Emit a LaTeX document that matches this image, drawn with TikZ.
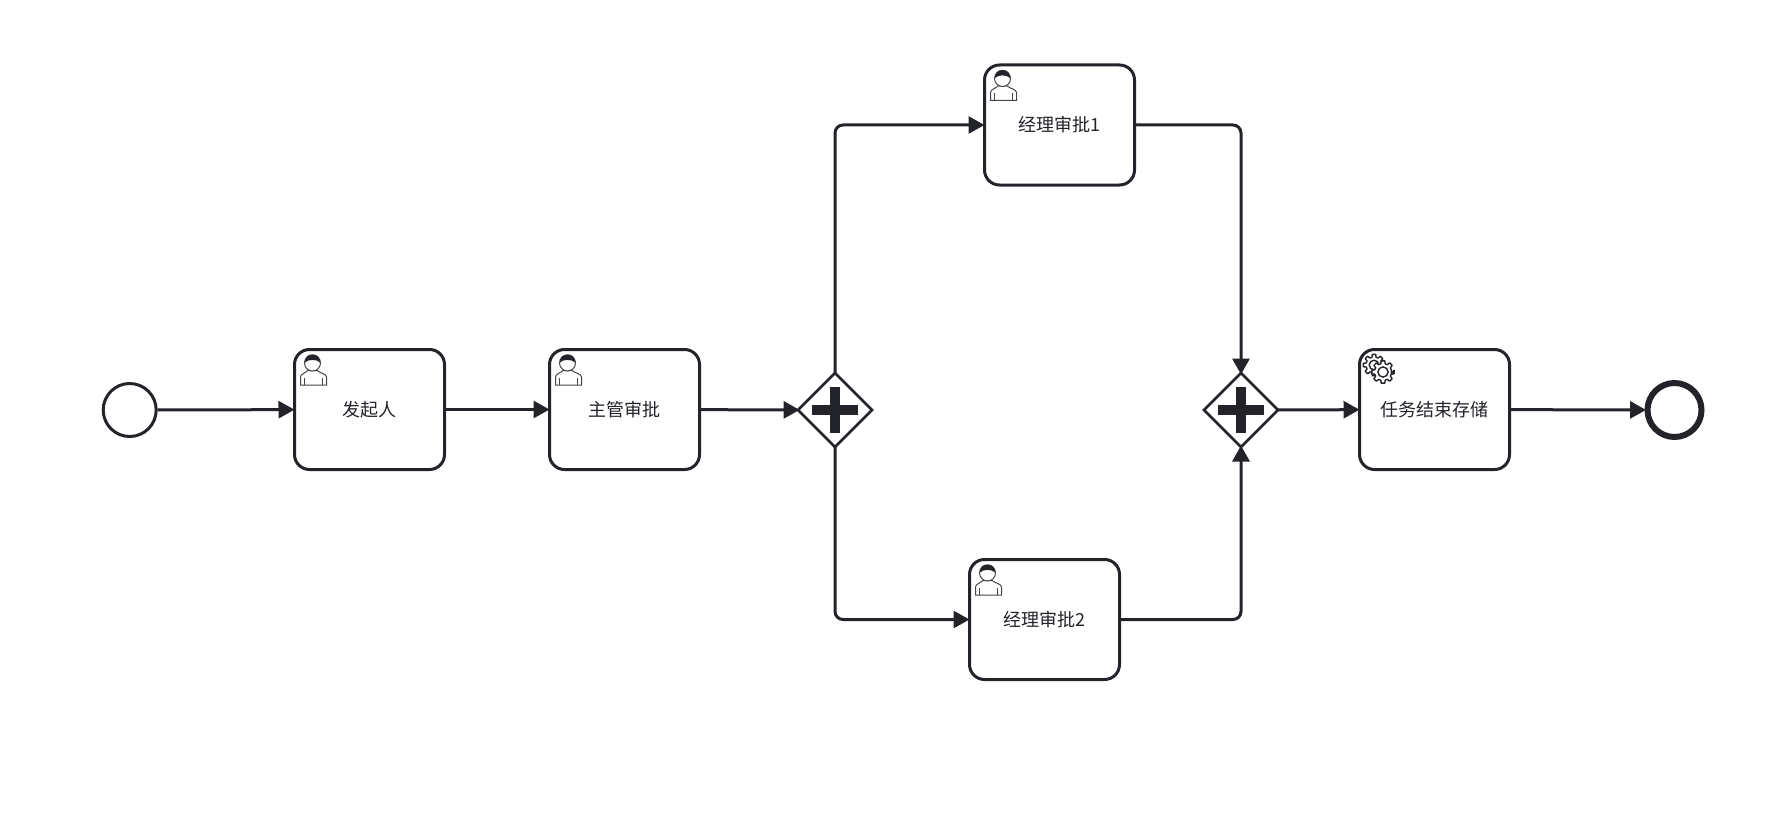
\documentclass[tikz,border=0pt]{standalone}
\usepackage{fontspec}
\setmainfont{Noto Sans CJK SC}
\usetikzlibrary{arrows.meta,shapes.geometric}
\definecolor{inkc}{HTML}{22242A}

\tikzset{
  task/.style={draw=inkc, line width=3pt, rounded corners=15pt, fill=white, text=inkc,
    minimum width=150pt, minimum height=120pt, font=\fontsize{18}{20}\selectfont},
  startev/.style={circle, draw=inkc, line width=3pt, fill=white, minimum size=53pt, inner sep=0pt},
  endev/.style={circle, draw=inkc, line width=6pt, fill=white, minimum size=54pt, inner sep=0pt},
  gateway/.style={diamond, draw=inkc, line width=2.6pt, fill=white, aspect=1, inner sep=0pt,
    outer sep=0pt, minimum size=74pt},
  flow/.style={draw=inkc, line width=3pt, ->, rounded corners=8pt, shorten >=-1.5pt},
  plusbar/.style={draw=inkc, line width=9.5pt},
  usericon/.pic={
    % body outline
    \draw[inkc!85, line width=1pt, fill=white]
      (7.5,37) -- (7.5,29) .. controls (7.5,26) and (12.5,25) .. (15,22.5)
      -- (24,22.5) .. controls (27,25) and (33.5,26) .. (33.5,29) -- (33.5,37) -- cycle;
    \draw[inkc!85, line width=1pt] (11.5,37) -- (11.5,30) (29,37) -- (29,30);
    \draw[inkc!85, line width=1pt, fill=white] (19.5,15) circle [radius=8pt];
    % hair
    \fill[inkc] (12,14.5) .. controls (12,9) and (15,6.5) .. (19.5,6.5)
      .. controls (24,6.5) and (27,9) .. (27,14.5)
      .. controls (24,11) and (15,11) .. (12,14.5) -- cycle;
  },
  geartooth/.pic={
    \draw[inkc, line width=1.4pt, fill=white, line join=round]
      (8:#1) \foreach \a in {0,45,...,315} {
        -- ({\a-9}:#1+2.8) -- ({\a+9}:#1+2.8) -- ({\a+15}:#1) -- ({\a+30}:#1)
      } -- cycle;
    \draw[inkc, line width=1.4pt, fill=white] (0,0) circle [radius=0.6*#1];
  }
}

\begin{document}
\begin{tikzpicture}[x=1pt, y=-1pt, >={Triangle[length=16pt,width=17pt]}]
  \useasboundingbox (0,0) rectangle (1779,832);

  \node[startev] (start) at (129.7,410) {};
  \node[task] (faqi)   at (369.5,409.5) {发起人};
  \node[task] (zhuguan) at (624.5,409.5) {主管审批};
  \node[gateway] (gwa) at (835,410) {};
  \node[task] (jingli1) at (1059.5,125) {经理审批1};
  \node[task] (jingli2) at (1044.5,619.5) {经理审批2};
  \node[gateway] (gwb) at (1241,410) {};
  \node[task] (cunchu) at (1434.5,409.5) {任务结束存储};
  \node[endev] (finish) at (1674.5,410) {};

  % plus marks in the gateways
  \foreach \gw in {gwa,gwb} {
    \draw[plusbar] (\gw.center) +(-23,0) -- +(23,0);
    \draw[plusbar] (\gw.center) +(0,-23) -- +(0,23);
  }

  % icons in the task corners
  \foreach \tk in {faqi,zhuguan,jingli1,jingli2} {
    \pic at (\tk.north west) {usericon};
  }
  \pic at ([shift={(16,17)}]cunchu.north west) {geartooth=8};
  \pic at ([shift={(25,24)}]cunchu.north west) {geartooth=8.5};

  % main line
  \draw[flow] (start) -- (faqi);
  \draw[flow] (faqi) -- (zhuguan);
  \draw[flow] (zhuguan) -- (gwa);

  % upper and lower branch
  \draw[flow] (gwa.north) |- (jingli1.west);
  \draw[flow] (gwa.south) |- (jingli2.west);
  \draw[flow] (jingli1.east) -| (gwb.north);
  \draw[flow] (jingli2.east) -| (gwb.south);

  % out of the join
  \draw[flow] (gwb) -- (cunchu);
  \draw[flow] (cunchu) -- (finish);
\end{tikzpicture}
\end{document}
